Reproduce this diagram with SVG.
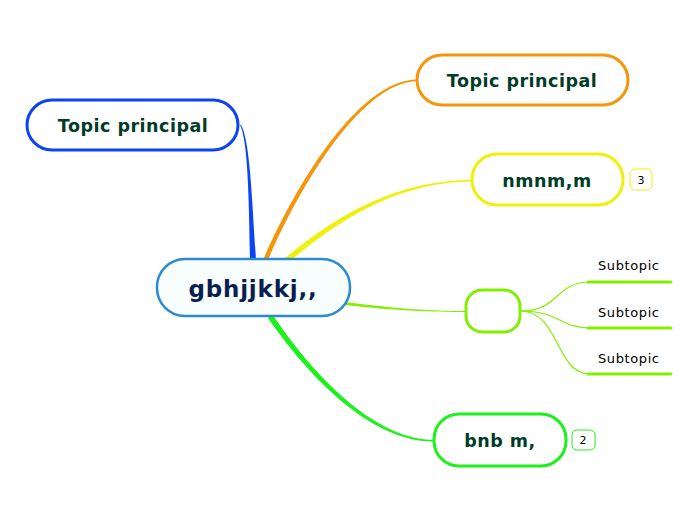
<svg xmlns="http://www.w3.org/2000/svg" width="696" height="520" viewBox="0 0 696 520">
<style>
.topic{font-family:"DejaVu Sans",Verdana,sans-serif;font-weight:bold;font-size:17.5px;letter-spacing:0.5px;fill:#003c28;text-anchor:middle}
.sub{font-family:"DejaVu Sans",Verdana,sans-serif;font-size:13px;letter-spacing:0.6px;fill:#000}
.badge{font-family:"DejaVu Sans",Verdana,sans-serif;font-size:11px;fill:#000;text-anchor:middle}
.box{fill:#fff;stroke-width:3}
</style>
<rect width="696" height="520" fill="#fff"/>
<g id="connectors">
<path d="M250,260 C249,200 248,140 240,125 L241,125 C250,140 252,200 256,260 Z" fill="#0a44f5"/>
<path d="M263,260 C298,180 360,80 417,79.5 L417,81 C362,83 302,182 268,260 Z" fill="#f5960a"/>
<path d="M284,259 C340,212 400,180 472,180 L472,181.5 C402,182 344,215 289,262 Z" fill="#f0f00a"/>
<path d="M345,302 C400,309 430,311 466,311 L466,312 C430,312 400,311 344,305 Z" fill="#80f000"/>
<path d="M272,314 C320,385 380,440 434,440 L434,441.5 C378,442 318,390 268,318 Z" fill="#1ef01e"/>
<g fill="none" stroke="#80f000" stroke-width="1.2">
<path d="M520,311 C560,311 555,282 590,282"/>
<path d="M520,311 C560,311 560,328 590,328"/>
<path d="M520,311 C560,311 555,374 590,374"/>
</g>
<g stroke="#80f000" stroke-width="3" stroke-linecap="round">
<line x1="588" y1="282" x2="671" y2="282"/>
<line x1="588" y1="328" x2="671" y2="328"/>
<line x1="588" y1="374" x2="671" y2="374"/>
</g>
</g>
<g id="center">
<rect x="157" y="259" width="193" height="57" rx="28" fill="#f8fdfe" stroke="#2b8ad0" stroke-width="2.5"/>
<text x="253" y="297" font-family="DejaVu Sans,Verdana,sans-serif" font-weight="bold" font-size="23" letter-spacing="0.8" fill="#0a1f4f" text-anchor="middle">gbhjjkkj,,</text>
</g>
<g id="topic-blue">
<rect class="box" x="27" y="100" width="211" height="50" rx="25" stroke="#0a44f5"/>
<text class="topic" x="133" y="132">Topic principal</text>
</g>
<g id="topic-orange">
<rect class="box" x="417" y="55" width="211" height="50" rx="25" stroke="#f5960a"/>
<text class="topic" x="522" y="87">Topic principal</text>
</g>
<g id="topic-yellow">
<rect class="box" x="472" y="154" width="151" height="51" rx="25" stroke="#f0f00a"/>
<text class="topic" x="547" y="187">nmnm,m</text>
<rect x="630" y="169" width="22" height="21" rx="5" fill="#fff" stroke="#f0f00a" stroke-width="1"/>
<text class="badge" x="641" y="184">3</text>
</g>
<g id="topic-lime">
<rect class="box" x="466" y="290" width="54" height="42" rx="16" stroke="#80f000"/>
</g>
<g id="sub1"><text class="sub" x="598" y="270">Subtopic</text></g>
<g id="sub2"><text class="sub" x="598" y="317">Subtopic</text></g>
<g id="sub3"><text class="sub" x="598" y="363">Subtopic</text></g>
<g id="topic-green">
<rect class="box" x="434" y="414" width="132" height="52" rx="25" stroke="#1ef01e"/>
<text class="topic" x="500" y="447">bnb m,</text>
<rect x="572" y="430" width="23" height="20" rx="5" fill="#fff" stroke="#1ef01e" stroke-width="1"/>
<text class="badge" x="583" y="444">2</text>
</g>
</svg>
